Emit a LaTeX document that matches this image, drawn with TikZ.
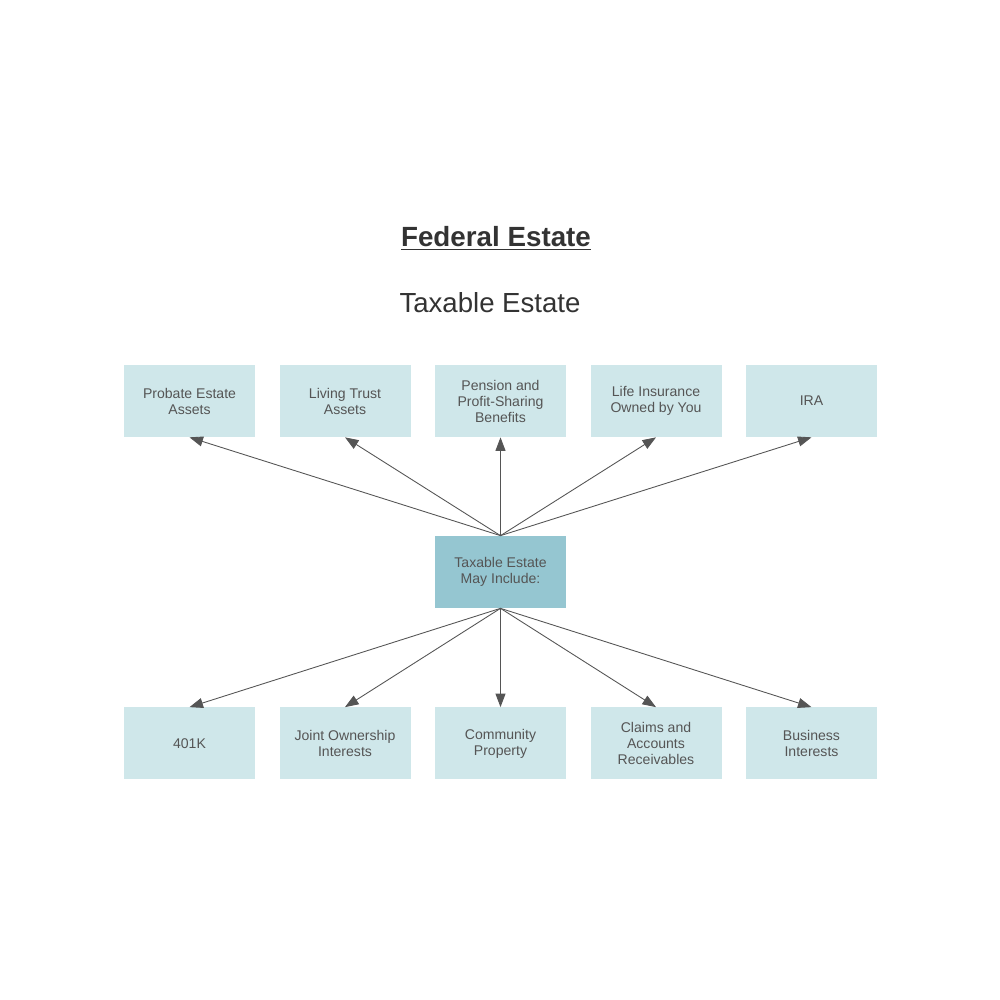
\documentclass[tikz,border=0pt]{standalone}
\usepackage{fontspec}
\setmainfont{Liberation Sans}
\usetikzlibrary{arrows.meta}

\definecolor{boxfill}{HTML}{CFE7EA}
\definecolor{hubfill}{HTML}{95C6D1}
\definecolor{boxtext}{HTML}{555555}
\definecolor{linkgray}{HTML}{555555}

\tikzset{
  itembox/.style={fill=boxfill, minimum width=2.62cm, minimum height=1.44cm,
    align=center, text=boxtext, font=\fontsize{8}{9.1}\selectfont, inner sep=0pt},
  hubbox/.style={itembox, fill=hubfill},
  link/.style={draw=linkgray, line width=0.5pt,
    -{Triangle[length=0.27cm, width=0.2cm]}}
}

\begin{document}
\begin{tikzpicture}
    \useasboundingbox (0,0) rectangle (20,20);

    % headings
    \node[font=\fontsize{15.8}{18}\selectfont\bfseries, text=black!80] (title) at (9.92,15.24)
      {\underline{Federal Estate}};
    \node[font=\fontsize{15.7}{18}\selectfont, text=black!80] (sub) at (9.80,13.94) {Taxable Estate};

    % hub
    \node[hubbox] (hub) at (10.01,8.56) {Taxable Estate\\May Include:};

    % top row
    \foreach \n/\x/\txt in {t1/3.79/{Probate Estate\\Assets},
                            t2/6.90/{Living Trust\\Assets},
                            t3/10.01/{Pension and\\Profit-Sharing\\Benefits},
                            t4/13.12/{Life Insurance\\Owned by You},
                            t5/16.23/{IRA}} {
      \node[itembox] (\n) at (\x,11.98) {\txt};
      \draw[link] (hub.north) -- (\n.south);
    }

    % bottom row
    \foreach \n/\x/\txt in {b1/3.79/{401K},
                            b2/6.90/{Joint Ownership\\Interests},
                            b3/10.01/{Community\\Property},
                            b4/13.12/{Claims and\\Accounts\\Receivables},
                            b5/16.23/{Business\\Interests}} {
      \node[itembox] (\n) at (\x,5.13) {\txt};
      \draw[link] (hub.south) -- (\n.north);
    }
\end{tikzpicture}
\end{document}
